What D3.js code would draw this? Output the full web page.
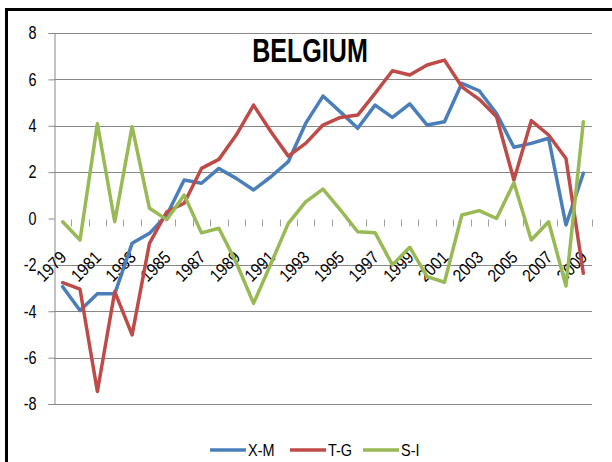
<!DOCTYPE html>
<html>
<head>
<meta charset="utf-8">
<script src="https://cdn.jsdelivr.net/npm/d3@7"></script>
<style>
  html, body { margin: 0; padding: 0; background: #fff; }
  svg { display: block; }
  text { font-family: "Liberation Sans", Arial, sans-serif; fill: #000; }
</style>
</head>
<body>
<svg id="chart" width="612" height="462"></svg>
<script>
// Belgium: external balance (X-M), fiscal balance (T-G) and private saving gap (S-I), % of GDP
const years = [1979, 1980, 1981, 1982, 1983, 1984, 1985, 1986, 1987, 1988,
               1989, 1990, 1991, 1992, 1993, 1994, 1995, 1996, 1997, 1998,
               1999, 2000, 2001, 2002, 2003, 2004, 2005, 2006, 2007, 2008, 2009];

const xmValues = [-2.94, -3.97, -3.25, -3.25, -1.07, -0.64, 0.15, 1.66, 1.52, 2.16,
                  1.73, 1.23, 1.8, 2.45, 4.1, 5.28, 4.6, 3.89, 4.89, 4.36,
                  4.94, 4.03, 4.17, 5.83, 5.51, 4.53, 3.07, 3.24, 3.46, -0.28, 1.95];

const tgValues = [-2.77, -3.05, -7.46, -3.15, -5.02, -1.07, 0.29, 0.66, 2.16, 2.55,
                  3.6, 4.89, 3.74, 2.69, 3.24, 4.03, 4.36, 4.46, 5.4, 6.37,
                  6.19, 6.62, 6.83, 5.68, 5.14, 4.39, 1.66, 4.22, 3.6, 2.59, -2.36];

const siValues = [-0.14, -0.93, 4.1, -0.14, 3.96, 0.44, -0.05, 1.01, -0.62, -0.42,
                  -1.9, -3.66, -1.95, -0.21, 0.72, 1.27, 0.37, -0.57, -0.61, -2.0,
                  -1.24, -2.51, -2.75, 0.15, 0.34, 0.0, 1.54, -0.93, -0.14, -2.91, 4.17];

const seriesNames = ["X-M", "T-G", "S-I"];
const seriesColors = ["#4a7ebb", "#be4b48", "#98b954"];
const yTicks = [-8, -6, -4, -2, 0, 2, 4, 6, 8];
const yearLabels = [1979, 1981, 1983, 1985, 1987, 1989, 1991, 1993, 1995, 1997,
                    1999, 2001, 2003, 2005, 2007, 2009];
const chartTitle = "BELGIUM";

const series = [xmValues, tgValues, siValues].map((vals, i) => ({
  name: seriesNames[i],
  color: seriesColors[i],
  values: vals
}));

// squeeze text horizontally to get a condensed face
function condense(sel, factor) {
  sel.each(function () {
    const w = this.getComputedTextLength();
    d3.select(this)
      .attr("textLength", (w * factor).toFixed(2))
      .attr("lengthAdjust", "spacingAndGlyphs");
  });
}

const svg = d3.select("#chart");

// outer frame
svg.append("rect")
  .attr("x", 6.5).attr("y", 9.5)
  .attr("width", 620).attr("height", 470)
  .attr("fill", "none").attr("stroke", "#000").attr("stroke-width", 3);

const plot = { left: 54, right: 592, top: 33, bottom: 404 };

const x = d3.scaleBand().domain(years).range([plot.left, plot.right]).padding(0);
const y = d3.scaleLinear().domain([-8, 8]).range([plot.bottom, plot.top]);
const cx = d => x(d) + x.bandwidth() / 2;

// horizontal gridlines
svg.append("g").selectAll("line")
  .data(yTicks.filter(t => t !== 0))
  .join("line")
  .attr("x1", plot.left).attr("x2", plot.right)
  .attr("y1", d => Math.round(y(d)) + 0.5).attr("y2", d => Math.round(y(d)) + 0.5)
  .attr("stroke", "#878787").attr("stroke-width", 1);

// value axis
const yAxis = d3.axisLeft(y).tickValues(yTicks).tickSize(6).tickPadding(12)
  .tickFormat(d3.format("d"));
const gy = svg.append("g")
  .attr("transform", `translate(${plot.left + 0.5},0)`)
  .call(yAxis);
gy.select(".domain").attr("stroke", "#878787");
gy.selectAll(".tick line").attr("stroke", "#878787");
gy.selectAll(".tick text")
  .attr("font-family", null)
  .attr("font-size", null)
  .style("font-size", "18px")
  .attr("fill", "#000")
  .text(d => d < 0 ? "-" + Math.abs(d) : d)
  .call(condense, 0.8);

// category axis: tick marks between categories, hanging below zero
const y0 = Math.round(y(0)) + 0.5;
const boundaries = years.map(d => x(d)).concat([plot.right]).slice(1);
svg.append("g").selectAll("line")
  .data(boundaries)
  .join("line")
  .attr("x1", d => Math.round(d) + 0.5).attr("x2", d => Math.round(d) + 0.5)
  .attr("y1", y0).attr("y2", y0 + 7)
  .attr("stroke", "#a0a0a0").attr("stroke-width", 1);

svg.append("g").selectAll("text")
  .data(yearLabels)
  .join("text")
  .attr("transform", d => `translate(${cx(d) + 5},${y0 + 39}) rotate(-45)`)
  .attr("text-anchor", "end")
  .style("font-size", "17.5px")
  .text(d => d)
  .call(condense, 0.88);

// series lines
const line = d3.line()
  .x((v, i) => cx(years[i]))
  .y(v => y(v));

svg.append("g").selectAll("path")
  .data(series)
  .join("path")
  .attr("d", s => line(s.values))
  .attr("fill", "none")
  .attr("stroke", s => s.color)
  .attr("stroke-width", 3.5)
  .attr("stroke-linejoin", "round")
  .attr("stroke-linecap", "round");

// title
svg.append("text")
  .attr("x", 310).attr("y", 62)
  .attr("text-anchor", "middle")
  .style("font-size", "33px")
  .style("font-weight", "bold")
  .text(chartTitle)
  .call(condense, 0.76);

// legend
const legendX = [210, 290, 363];
const legend = svg.append("g").selectAll("g")
  .data(series)
  .join("g")
  .attr("transform", (s, i) => `translate(${legendX[i]},450)`);
legend.append("line")
  .attr("x1", 0).attr("x2", 36).attr("y1", 0).attr("y2", 0)
  .attr("stroke", s => s.color).attr("stroke-width", 3.5);
legend.append("text")
  .attr("x", 38).attr("y", 6)
  .style("font-size", "17px")
  .text(s => s.name)
  .call(condense, 0.85);
</script>
</body>
</html>
